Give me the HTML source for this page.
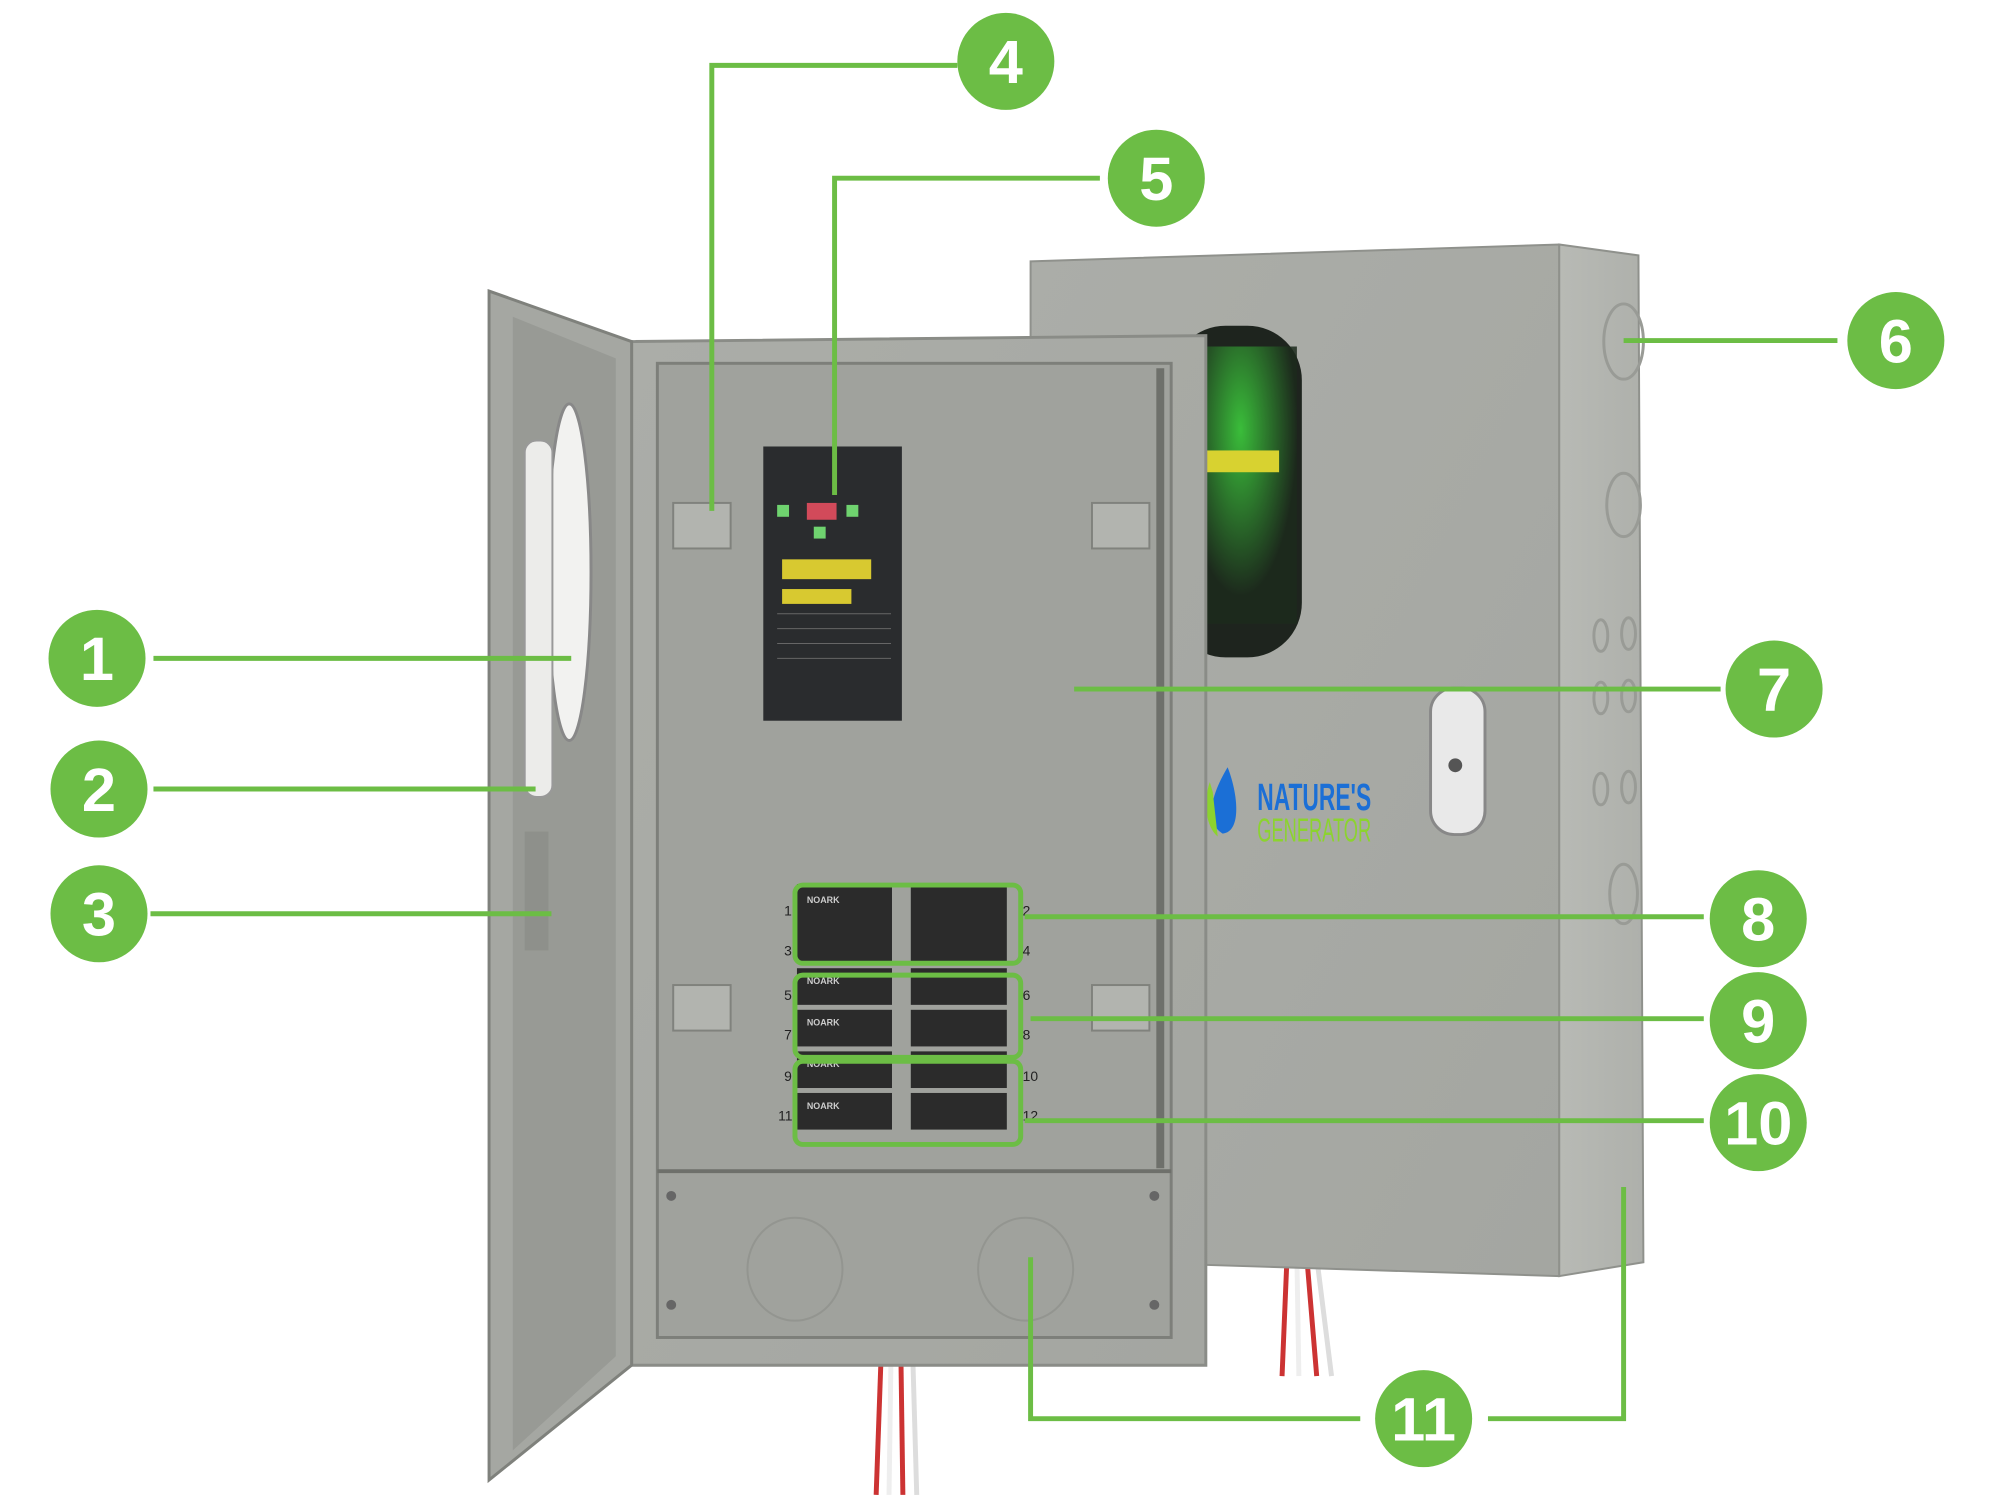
<!DOCTYPE html>
<html><head><meta charset="utf-8"><style>
html,body{margin:0;padding:0;background:#fff;}
svg{display:block}
text{font-family:"Liberation Sans",sans-serif}
</style></head><body>
<svg width="2000" height="1500" viewBox="0 0 2000 1500" xmlns="http://www.w3.org/2000/svg">
<defs>
<linearGradient id="face" x1="0" x2="1" y1="0" y2="1"><stop offset="0" stop-color="#abada8"/><stop offset="1" stop-color="#a4a6a1"/></linearGradient>
<linearGradient id="side" x1="0" x2="1"><stop offset="0" stop-color="#b8bab5"/><stop offset="1" stop-color="#aeb0ab"/></linearGradient>
<radialGradient id="glow" cx="0.4" cy="0.3" r="0.6"><stop offset="0" stop-color="#3fd83f"/><stop offset="1" stop-color="#1c2a1c"/></radialGradient>
</defs>
<g transform="scale(0.99)">
<g stroke-width="5">
<line x1="1300" y1="1270" x2="1295" y2="1390" stroke="#c33"/><line x1="1310" y1="1270" x2="1312" y2="1390" stroke="#eee"/><line x1="1320" y1="1270" x2="1330" y2="1390" stroke="#c33"/><line x1="1330" y1="1270" x2="1345" y2="1390" stroke="#ddd"/>
<line x1="890" y1="1370" x2="885" y2="1510" stroke="#c33"/><line x1="900" y1="1370" x2="898" y2="1510" stroke="#eee"/><line x1="910" y1="1370" x2="912" y2="1510" stroke="#c33"/><line x1="922" y1="1370" x2="926" y2="1510" stroke="#ddd"/>
</g>
<polygon points="1041,264 1575,247 1575,1289 1041,1272" fill="url(#face)" stroke="#8f918c" stroke-width="2"/>
<polygon points="1575,247 1655,258 1660,1275 1575,1289" fill="url(#side)" stroke="#8f918c" stroke-width="2"/>
<g fill="none" stroke="#999b96" stroke-width="3">
<ellipse cx="1640" cy="345" rx="20" ry="38"/><ellipse cx="1640" cy="510" rx="17" ry="32"/>
<ellipse cx="1617" cy="642" rx="7" ry="16"/><ellipse cx="1645" cy="640" rx="7" ry="16"/>
<ellipse cx="1617" cy="705" rx="7" ry="16"/><ellipse cx="1645" cy="703" rx="7" ry="16"/>
<ellipse cx="1617" cy="797" rx="7" ry="16"/><ellipse cx="1645" cy="795" rx="7" ry="16"/>
<ellipse cx="1640" cy="903" rx="14" ry="30"/>
</g>
<rect x="1183" y="329" width="132" height="335" rx="55" fill="#1e241e"/>
<rect x="1215" y="350" width="95" height="280" fill="url(#glow)" opacity="0.85"/>
<rect x="1217" y="455" width="75" height="22" fill="#d8d230"/>
<rect x="1445" y="695" width="55" height="148" rx="24" fill="#e9e9e9" stroke="#888" stroke-width="3"/>
<circle cx="1470" cy="773" r="7" fill="#555"/>
<path d="M1240,775 C1225,800 1215,830 1235,842 C1255,840 1250,800 1240,775Z" fill="#1b6fd6"/>
<path d="M1222,790 C1215,810 1218,835 1230,845 L1225,800Z" fill="#8cd32f"/>
<text x="1270" y="818" font-size="38" font-weight="bold" fill="#1b6fd6" textLength="115" lengthAdjust="spacingAndGlyphs">NATURE'S</text>
<text x="1270" y="850" font-size="34" fill="#8cd32f" textLength="115" lengthAdjust="spacingAndGlyphs">GENERATOR</text>
<polygon points="638,345 1218,339 1218,1379 638,1379" fill="url(#face)" stroke="#8a8c87" stroke-width="3"/>
<rect x="664" y="367" width="519" height="984" fill="#a0a29d" stroke="#7d7f7a" stroke-width="3"/>
<line x1="1172" y1="372" x2="1172" y2="1180" stroke="#6e706b" stroke-width="8"/>
<line x1="664" y1="1183" x2="1183" y2="1183" stroke="#6e706b" stroke-width="4"/>
<ellipse cx="803" cy="1282" rx="48" ry="52" fill="none" stroke="#939590" stroke-width="2"/>
<ellipse cx="1036" cy="1282" rx="48" ry="52" fill="none" stroke="#939590" stroke-width="2"/>
<g fill="#666"><circle cx="678" cy="1208" r="5"/><circle cx="1166" cy="1208" r="5"/><circle cx="678" cy="1318" r="5"/><circle cx="1166" cy="1318" r="5"/></g>
<g fill="#b2b4af" stroke="#80827d" stroke-width="2">
<rect x="680" y="508" width="58" height="46"/><rect x="1103" y="508" width="58" height="46"/>
<rect x="680" y="995" width="58" height="46"/><rect x="1103" y="995" width="58" height="46"/>
</g>
<rect x="771" y="451" width="140" height="277" fill="#2a2c2e"/>
<rect x="790" y="565" width="90" height="20" fill="#d8c930"/><rect x="790" y="595" width="70" height="15" fill="#d8c930"/>
<rect x="815" y="508" width="30" height="17" fill="#d24a5a"/>
<g fill="#6fd36f"><rect x="785" y="510" width="12" height="12"/><rect x="855" y="510" width="12" height="12"/><rect x="822" y="532" width="12" height="12"/></g>
<g stroke="#666" stroke-width="1"><line x1="785" y1="620" x2="900" y2="620"/><line x1="785" y1="635" x2="900" y2="635"/><line x1="785" y1="650" x2="900" y2="650"/><line x1="785" y1="665" x2="900" y2="665"/></g>
<g fill="#2b2b2b">
<rect x="805" y="893" width="96" height="78"/><rect x="920" y="893" width="97" height="78"/>
<rect x="805" y="978" width="96" height="37"/><rect x="805" y="1020" width="96" height="37"/>
<rect x="920" y="978" width="97" height="37"/><rect x="920" y="1020" width="97" height="37"/>
<rect x="805" y="1062" width="96" height="37"/><rect x="805" y="1104" width="96" height="37"/>
<rect x="920" y="1062" width="97" height="37"/><rect x="920" y="1104" width="97" height="37"/>
</g>
<g fill="#ccc" font-size="9" font-weight="bold"><text x="815" y="912">NOARK</text><text x="815" y="994">NOARK</text><text x="815" y="1036">NOARK</text><text x="815" y="1078">NOARK</text><text x="815" y="1120">NOARK</text></g>
<g fill="none" stroke="#6cbd45" stroke-width="5">
<rect x="803" y="894" width="228" height="79" rx="8"/><rect x="803" y="985" width="228" height="83" rx="8"/><rect x="803" y="1072" width="228" height="84" rx="8"/>
</g>
<g font-size="14" fill="#222"><text x="792" y="925">1</text><text x="792" y="965">3</text><text x="792" y="1010">5</text><text x="792" y="1050">7</text><text x="792" y="1092">9</text><text x="786" y="1132">11</text>
<text x="1033" y="925">2</text><text x="1033" y="965">4</text><text x="1033" y="1010">6</text><text x="1033" y="1050">8</text><text x="1033" y="1092">10</text><text x="1033" y="1132">12</text></g>
<polygon points="494,294 638,345 638,1379 494,1495" fill="#a5a7a2" stroke="#7f817c" stroke-width="3"/>
<polygon points="518,320 622,362 622,1370 518,1465" fill="#989a95"/>
<ellipse cx="575" cy="578" rx="22" ry="170" fill="#f2f2f0" stroke="#888" stroke-width="3"/>
<rect x="530" y="445" width="28" height="360" rx="12" fill="#ececea" stroke="#999" stroke-width="2"/>
<rect x="530" y="840" width="24" height="120" fill="#8e908b"/>
<g stroke="#6cbd45" stroke-width="5" fill="none">
<line x1="155" y1="665" x2="577" y2="665"/><line x1="155" y1="797" x2="541" y2="797"/><line x1="152" y1="923" x2="557" y2="923"/>
<polyline points="967,66 719,66 719,516"/><polyline points="1111,180 843,180 843,500"/>
<line x1="1640" y1="344" x2="1856" y2="344"/><line x1="1085" y1="696" x2="1738" y2="696"/>
<line x1="1035" y1="926" x2="1721" y2="926"/><line x1="1041" y1="1029" x2="1721" y2="1029"/><line x1="1035" y1="1132" x2="1721" y2="1132"/>
<polyline points="1041,1270 1041,1433 1374,1433"/><polyline points="1503,1433 1640,1433 1640,1199"/>
</g>
<g fill="#6cbd45">
<circle cx="98" cy="665" r="49"/><circle cx="100" cy="797" r="49"/><circle cx="100" cy="923" r="49"/>
<circle cx="1016" cy="62" r="49"/><circle cx="1168" cy="180" r="49"/><circle cx="1915" cy="344" r="49"/>
<circle cx="1792" cy="696" r="49"/><circle cx="1776" cy="928" r="49"/><circle cx="1776" cy="1031" r="49"/>
<circle cx="1776" cy="1134" r="49"/><circle cx="1438" cy="1433" r="49"/>
</g>
<g fill="#fff" font-size="62" font-weight="bold" text-anchor="middle">
<text x="98" y="687">1</text><text x="100" y="819">2</text><text x="100" y="945">3</text>
<text x="1016" y="84">4</text><text x="1168" y="202">5</text><text x="1915" y="366">6</text>
<text x="1792" y="718">7</text><text x="1776" y="950">8</text><text x="1776" y="1053">9</text>
<text x="1776" y="1156">10</text><text x="1438" y="1455">11</text>
</g>
</g>
</svg>
</body></html>
